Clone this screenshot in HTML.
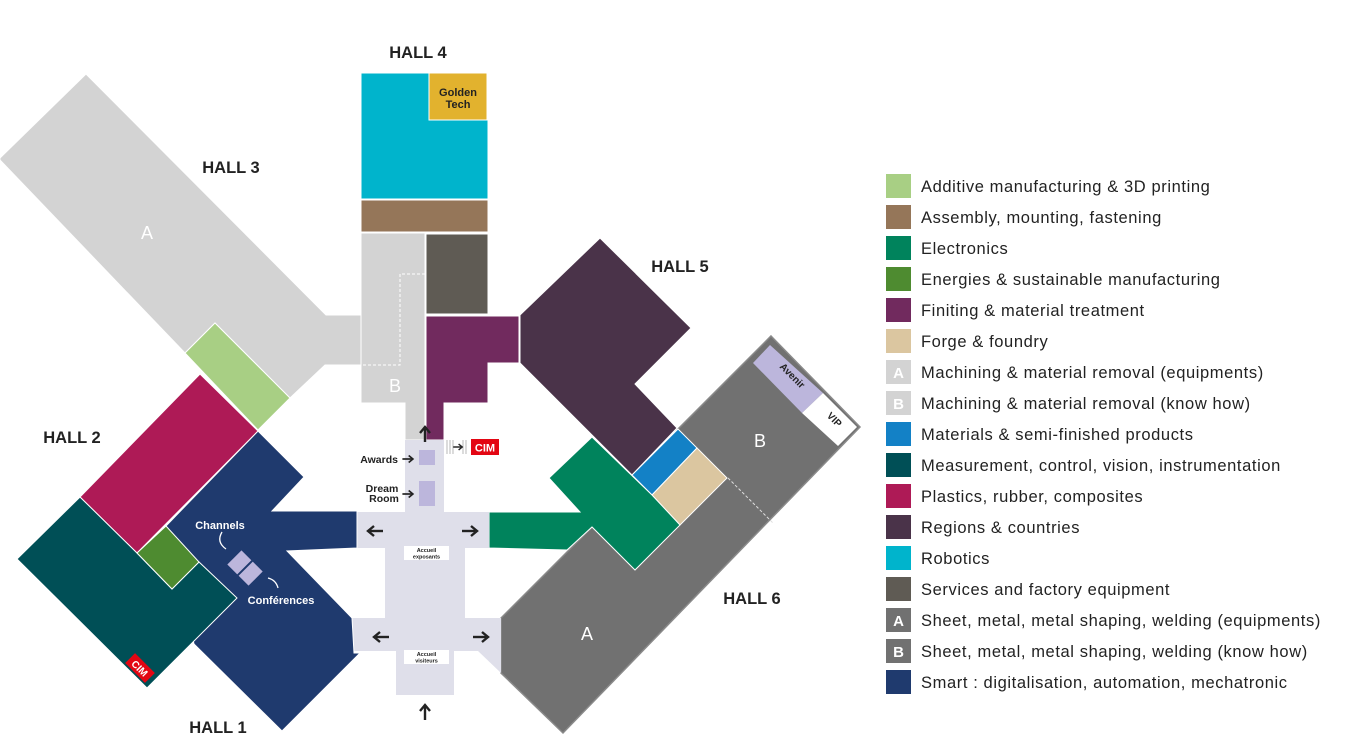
<!DOCTYPE html>
<html><head><meta charset="utf-8"><style>
html,body{margin:0;padding:0;background:#fff;}
svg{display:block;font-family:"Liberation Sans",Arial,sans-serif;}
</style></head><body>
<svg width="1356" height="744" viewBox="0 0 1356 744" xmlns="http://www.w3.org/2000/svg">
<defs>
<g id="arr"><line x1="-8" y1="0" x2="5" y2="0" stroke="#222" stroke-width="2.4"/><polyline points="1,-5 7,0 1,5" fill="none" stroke="#222" stroke-width="2.4"/></g>
</defs>
<g stroke="#fff" stroke-width="1" stroke-linejoin="miter">
<polygon fill="#d3d3d3" points="86,74 326,315 361,315 361,365 325,365 290,398 215,323 185,353 0,160 0,158"/>
<polygon fill="#a8cf84" points="215,323 290,398 258,430 185,353"/>
<rect x="361" y="73" width="127" height="126" fill="#00b4cc"/>
<rect x="429" y="73" width="58" height="47" fill="#e2b22e"/>
<rect x="361" y="200" width="127" height="32" fill="#957659"/>
<polygon fill="#d3d3d3" points="361,233 425,233 425,440 405,440 405,403 361,403"/>
<rect x="426" y="234" width="62" height="80" fill="#5f5b54"/>
<polygon fill="#712a5e" points="426,316 519,316 519,363 488,363 488,403 444,403 444,440 426,440"/>
<polygon fill="#4a3349" points="520,315 600,238 691,328 635,384 677,428 632,475 520,363"/>
<polygon fill="#717171" stroke="#8a8a8a" stroke-width="1.5" points="771,336 860,427 563,733 501,673 501,618 592,527 678,429"/>
<polygon fill="#bcb6dc" stroke="none" points="753,363 770,345 823,393 802,413"/>
<polygon fill="#ffffff" stroke="none" points="823,393 857,427 838,446 802,413"/>
<polygon fill="#1381c6" points="678,429 697,448 652,495 632,475"/>
<polygon fill="#dbc6a0" points="697,448 727,478 680,525 652,495"/>
<polygon fill="#00835c" points="489,512 580,512 549,478 592,437 652,495 680,525 635,570 592,527 567,550 489,548"/>
<polygon fill="#dfdfea" stroke="none" points="405,440 444,440 444,512 489,512 489,548 465,548 465,618 501,618 501,673 478,651 454,651 454,695 396,695 396,651 353,651 352,618 385,618 385,548 357,548 357,512 405,512"/>
<polygon fill="#1f3a6e" points="258,431 304,477 272,511 357,511 357,548 287,551 352,618 354,653 360,653 282,731 194,644 166,526"/>
<polygon fill="#ae1a56" points="200,374 258,431 137,553 80,497"/>
<polygon fill="#004f56" points="80,497 137,553 172,589 199,562 237,598 147,688 17,559"/>
<polygon fill="#4e8b30" points="166,526 199,562 172,589 137,553"/>
</g>
<polyline points="425,274 400,274 400,365 361,365" fill="none" stroke="#fff" stroke-width="1" stroke-dasharray="3,2"/>
<line x1="728" y1="478" x2="773" y2="523" stroke="#ddd" stroke-width="1" stroke-dasharray="3,2"/>
<rect x="419" y="450" width="16" height="15" fill="#bcb6dc"/>
<rect x="419" y="481" width="16" height="25" fill="#bcb6dc"/>
<g transform="translate(245,568) rotate(45)"><rect x="-15" y="-10" width="14" height="20" fill="#bcb6dc"/><rect x="1" y="-10" width="14" height="20" fill="#bcb6dc"/></g>
<rect x="404" y="546" width="45" height="14" fill="#fff"/>
<rect x="404" y="650" width="45" height="14" fill="#fff"/>
<text x="426.5" y="552" font-size="5.5" font-weight="bold" text-anchor="middle" fill="#222">Accueil</text>
<text x="426.5" y="558.5" font-size="5.5" font-weight="bold" text-anchor="middle" fill="#222">exposants</text>
<text x="426.5" y="656" font-size="5.5" font-weight="bold" text-anchor="middle" fill="#222">Accueil</text>
<text x="426.5" y="662.5" font-size="5.5" font-weight="bold" text-anchor="middle" fill="#222">visiteurs</text>
<rect x="446" y="440" width="23" height="14" fill="#fff"/>
<g stroke="#888" stroke-width="0.6"><line x1="447" y1="440" x2="447" y2="454"/><line x1="450" y1="440" x2="450" y2="454"/><line x1="453" y1="440" x2="453" y2="454"/><line x1="463" y1="440" x2="463" y2="454"/><line x1="466" y1="440" x2="466" y2="454"/></g>
<g transform="translate(458,447) scale(0.6)"><use href="#arr"/></g>
<rect x="471" y="439" width="28" height="16" fill="#e30613"/>
<text x="485" y="451.5" font-size="11" font-weight="bold" text-anchor="middle" fill="#fff">CIM</text>
<g transform="translate(140,668) rotate(45)"><rect x="-14" y="-7" width="28" height="14" fill="#e30613"/><text x="0" y="4" font-size="10" font-weight="bold" text-anchor="middle" fill="#fff">CIM</text></g>
<g>
<use href="#arr" transform="translate(375,531) rotate(180)"/>
<use href="#arr" transform="translate(470,531)"/>
<use href="#arr" transform="translate(381,637) rotate(180)"/>
<use href="#arr" transform="translate(481,637)"/>
<use href="#arr" transform="translate(425,712) rotate(-90)"/>
<use href="#arr" transform="translate(425,434) rotate(-90)"/>
<use href="#arr" transform="translate(408,459) scale(0.7)"/>
<use href="#arr" transform="translate(408,494) scale(0.7)"/>
</g>
<text x="398" y="463" font-size="10.5" font-weight="bold" text-anchor="end" fill="#222">Awards</text>
<text x="382" y="492" font-size="10.5" font-weight="bold" text-anchor="middle" fill="#222">Dream</text>
<text x="384" y="502" font-size="10.5" font-weight="bold" text-anchor="middle" fill="#222">Room</text>
<text x="458" y="96" font-size="11" font-weight="bold" text-anchor="middle" fill="#222">Golden</text>
<text x="458" y="108" font-size="11" font-weight="bold" text-anchor="middle" fill="#222">Tech</text>
<g fill="#fff" font-size="11" font-weight="bold">
<text x="220" y="529" text-anchor="middle">Channels</text>
<text x="281" y="604" text-anchor="middle">Conférences</text>
</g>
<path d="M222,532 Q216,542 226,549" fill="none" stroke="#fff" stroke-width="1.3"/>
<path d="M278,588 Q276,580 268,578" fill="none" stroke="#fff" stroke-width="1.3"/>
<g fill="#fff" font-size="18">
<text x="147" y="239" text-anchor="middle">A</text>
<text x="395" y="392" text-anchor="middle">B</text>
<text x="760" y="447" text-anchor="middle">B</text>
<text x="587" y="640" text-anchor="middle">A</text>
</g>
<text transform="translate(790,378) rotate(45)" font-size="10" font-weight="bold" text-anchor="middle" fill="#222">Avenir</text>
<text transform="translate(832,422) rotate(45)" font-size="10" font-weight="bold" text-anchor="middle" fill="#222">VIP</text>
<g font-size="16.5" font-weight="bold" fill="#222" text-anchor="middle">
<text x="418" y="58">HALL 4</text>
<text x="231" y="173">HALL 3</text>
<text x="680" y="272">HALL 5</text>
<text x="72" y="443">HALL 2</text>
<text x="752" y="604">HALL 6</text>
<text x="218" y="733">HALL 1</text>
</g>
<g font-size="16.5" fill="#222" letter-spacing="0.6">
<rect x="886" y="174" width="25" height="24" fill="#a8cf84"/><text x="921" y="192">Additive manufacturing &amp; 3D printing</text>
<rect x="886" y="205" width="25" height="24" fill="#957659"/><text x="921" y="223">Assembly, mounting, fastening</text>
<rect x="886" y="236" width="25" height="24" fill="#00835c"/><text x="921" y="254">Electronics</text>
<rect x="886" y="267" width="25" height="24" fill="#4e8b30"/><text x="921" y="285">Energies &amp; sustainable manufacturing</text>
<rect x="886" y="298" width="25" height="24" fill="#712a5e"/><text x="921" y="316">Finiting &amp; material treatment</text>
<rect x="886" y="329" width="25" height="24" fill="#dbc6a0"/><text x="921" y="347">Forge &amp; foundry</text>
<rect x="886" y="360" width="25" height="24" fill="#d3d3d3"/><text x="921" y="378">Machining &amp; material removal (equipments)</text>
<rect x="886" y="391" width="25" height="24" fill="#d3d3d3"/><text x="921" y="409">Machining &amp; material removal (know how)</text>
<rect x="886" y="422" width="25" height="24" fill="#1381c6"/><text x="921" y="440">Materials &amp; semi-finished products</text>
<rect x="886" y="453" width="25" height="24" fill="#004f56"/><text x="921" y="471">Measurement, control, vision, instrumentation</text>
<rect x="886" y="484" width="25" height="24" fill="#ae1a56"/><text x="921" y="502">Plastics, rubber, composites</text>
<rect x="886" y="515" width="25" height="24" fill="#4a3349"/><text x="921" y="533">Regions &amp; countries</text>
<rect x="886" y="546" width="25" height="24" fill="#00b4cc"/><text x="921" y="564">Robotics</text>
<rect x="886" y="577" width="25" height="24" fill="#5f5b54"/><text x="921" y="595">Services and factory equipment</text>
<rect x="886" y="608" width="25" height="24" fill="#717171"/><text x="921" y="626">Sheet, metal, metal shaping, welding (equipments)</text>
<rect x="886" y="639" width="25" height="24" fill="#717171"/><text x="921" y="657">Sheet, metal, metal shaping, welding (know how)</text>
<rect x="886" y="670" width="25" height="24" fill="#1f3a6e"/><text x="921" y="688">Smart : digitalisation, automation, mechatronic</text>
</g>
<g fill="#fff" font-size="15" font-weight="bold" text-anchor="middle">
<text x="898.5" y="378">A</text><text x="898.5" y="409">B</text>
<text x="898.5" y="626">A</text><text x="898.5" y="657">B</text>
</g>
</svg>
</body></html>
